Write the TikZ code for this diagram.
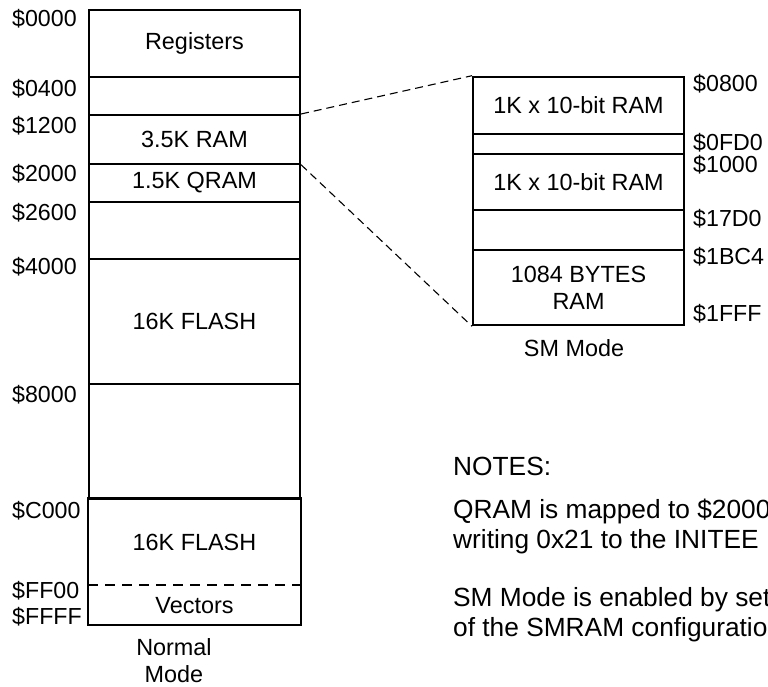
\documentclass[tikz,border=0pt]{standalone}
\usepackage{fontspec}
\setmainfont{Liberation Sans}
\usetikzlibrary{positioning}

\begin{document}
\begin{tikzpicture}[x=1pt, y=-1pt,
    region/.style={draw, line width=2pt, minimum width=211pt, anchor=north west,
      inner sep=0pt, font=\fontsize{23.4}{26.6}\selectfont},
    addr/.style={anchor=base west, inner sep=0pt, font=\fontsize{23.2}{27}\selectfont},
    caption/.style={inner sep=0pt, align=center, font=\fontsize{23.4}{27}\selectfont},
    note/.style={anchor=base west, inner sep=0pt, font=\fontsize{26.3}{30}\selectfont},
    zoomline/.style={line width=1.1pt, dash pattern=on 8pt off 5pt}]
  \useasboundingbox (0,0) rectangle (768,687);
  \clip (0,0) rectangle (768,687);

  % Normal mode map
  \node[region, minimum height=66.7pt] (regs) at (88,9) {Registers};
  \node[region, minimum height=38.3pt] (gapa) at (88,75.7) {};
  \node[region, minimum height=48.7pt] (ram) at (88,114) {3.5K RAM};
  \node[region, minimum height=38pt] (qram) at (88,162.7) {1.5K QRAM};
  \node[region, minimum height=57.6pt] (gapb) at (88,200.7) {};
  \node[region, minimum height=125pt] (flasha) at (88,258.3) {16K FLASH};
  \node[region, minimum height=114.7pt] (gapc) at (88,383.3) {};
  \node[region, draw=none, minimum height=87pt] (flashb) at (88,498) {16K FLASH};
  \node[region, draw=none, minimum height=38.3pt] (vectors) at (88,585) {Vectors};
  \draw[line width=2pt] (flashb.north west) rectangle (vectors.south east);
  \draw[line width=2pt, dash pattern=on 10pt off 7pt] (vectors.north west) -- (vectors.north east);
  \node[caption] (normal) at (174,661) {Normal\\Mode};

  % Normal mode addresses
  \node[addr] (a0000) at (12,27) {\$0000};
  \node[addr] (a0400) at (12,96.7) {\$0400};
  \node[addr] (a1200) at (12,133.3) {\$1200};
  \node[addr] (a2000) at (12,181.7) {\$2000};
  \node[addr] (a2600) at (12,220) {\$2600};
  \node[addr] (a4000) at (12,274) {\$4000};
  \node[addr] (a8000) at (12,402.7) {\$8000};
  \node[addr] (ac000) at (12,518) {\$C000};
  \node[addr] (aff00) at (12,598) {\$FF00};
  \node[addr] (affff) at (12,624) {\$FFFF};

  % SM mode map
  \node[region, minimum height=57pt] (sma) at (472,75.7) {1K x 10-bit RAM};
  \node[region, minimum height=20pt] (smb) at (472,132.7) {};
  \node[region, minimum height=56.6pt] (smc) at (472,152.7) {1K x 10-bit RAM};
  \node[region, minimum height=39.7pt] (smd) at (472,209.3) {};
  \node[region, minimum height=75.3pt, align=center] (sme) at (472,249) {1084 BYTES\\RAM};
  \node[caption] (smmode) at (574,348) {SM Mode};

  % SM mode addresses
  \node[addr] (s0800) at (693,91.7) {\$0800};
  \node[addr] (s0fd0) at (693,150.7) {\$0FD0};
  \node[addr] (s1000) at (693,172.7) {\$1000};
  \node[addr] (s17d0) at (693,226.7) {\$17D0};
  \node[addr] (s1bc4) at (693,264.3) {\$1BC4};
  \node[addr] (s1fff) at (693,321.7) {\$1FFF};

  % Zoom lines
  \draw[zoomline] (ram.north east) -- (sma.north west);
  \draw[zoomline] (ram.south east) -- (sme.south west);

  % Notes
  \node[note] (notes) at (453,475) {NOTES:};
  \node[note] (notea) at (453,518.3) {QRAM is mapped to \$2000};
  \node[note] (noteb) at (453,548.3) {writing 0x21 to the INITEE};
  \node[note] (notec) at (453,606.7) {SM Mode is enabled by setting};
  \node[note] (noted) at (453,636.7) {of the SMRAM configuration};
\end{tikzpicture}
\end{document}
